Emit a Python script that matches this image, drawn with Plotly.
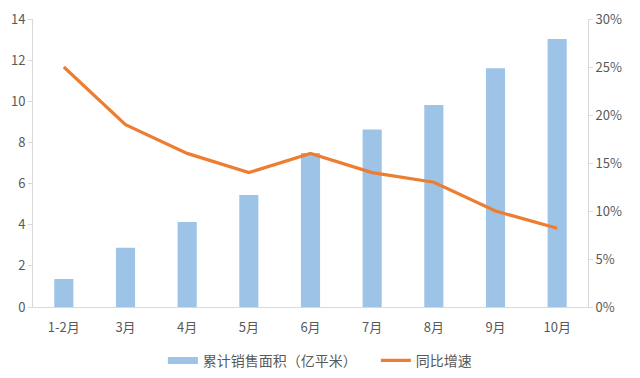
import plotly.graph_objects as go

months = ["1-2月", "3月", "4月", "5月", "6月", "7月", "8月", "9月", "10月"]
sales_area = [1.36, 2.88, 4.13, 5.44, 7.49, 8.63, 9.82, 11.6, 13.03]
yoy_growth = [25.0, 19.0, 16.0, 14.0, 16.0, 14.0, 13.0, 10.0, 8.2]

bar_name = "累计销售面积（亿平米）"
line_name = "同比增速"

font_family = "Noto Sans CJK SC, Noto Sans, sans-serif"
grey = "#595959"
axis_col = "#D9D9D9"
bar_col = "#9DC3E6"
line_col = "#ED7D31"

fig = go.Figure()
fig.add_trace(go.Bar(x=months, y=sales_area, name=bar_name, showlegend=False,
                     marker=dict(color=bar_col, line=dict(width=0)), width=0.31))
# legend-only entry to show a wide rectangle like the original
fig.add_trace(go.Scatter(x=[None], y=[None], name=bar_name, mode="lines",
                         line=dict(color=bar_col, width=7)))
fig.add_trace(go.Scatter(x=months, y=yoy_growth, name=line_name, yaxis="y2",
                         mode="lines", line=dict(color=line_col, width=3.2)))

fig.update_layout(
    width=640, height=378,
    margin=dict(l=25, r=60, t=11, b=79, autoexpand=False),
    plot_bgcolor="white", paper_bgcolor="white",
    font=dict(family=font_family, size=13, color=grey),
    showlegend=True,
    legend=dict(orientation="h", x=0.234, xanchor="left", y=-0.187, yanchor="middle",
                font=dict(size=14, color=grey), itemwidth=30, tracegroupgap=0,
                entrywidth=168),
    xaxis=dict(showline=True, linecolor=axis_col, linewidth=1, ticks="",
               ticklabelstandoff=8,
               tickfont=dict(size=13, color=grey), showgrid=False, zeroline=False,
               automargin=False),
    yaxis=dict(range=[0, 14], dtick=2, showline=True, linecolor=axis_col, linewidth=1,
               ticks="outside", ticklen=4, tickcolor=axis_col, showgrid=False, zeroline=False,
               tickfont=dict(size=13, color=grey), automargin=False),
    yaxis2=dict(range=[0, 30], dtick=5, overlaying="y", side="right", showline=True,
                linecolor=axis_col, linewidth=1, ticks="outside", ticklen=4, tickcolor=axis_col,
                ticksuffix="%", showgrid=False, zeroline=False,
                tickfont=dict(size=13, color=grey), automargin=False),
)

fig.write_html("out.html")
